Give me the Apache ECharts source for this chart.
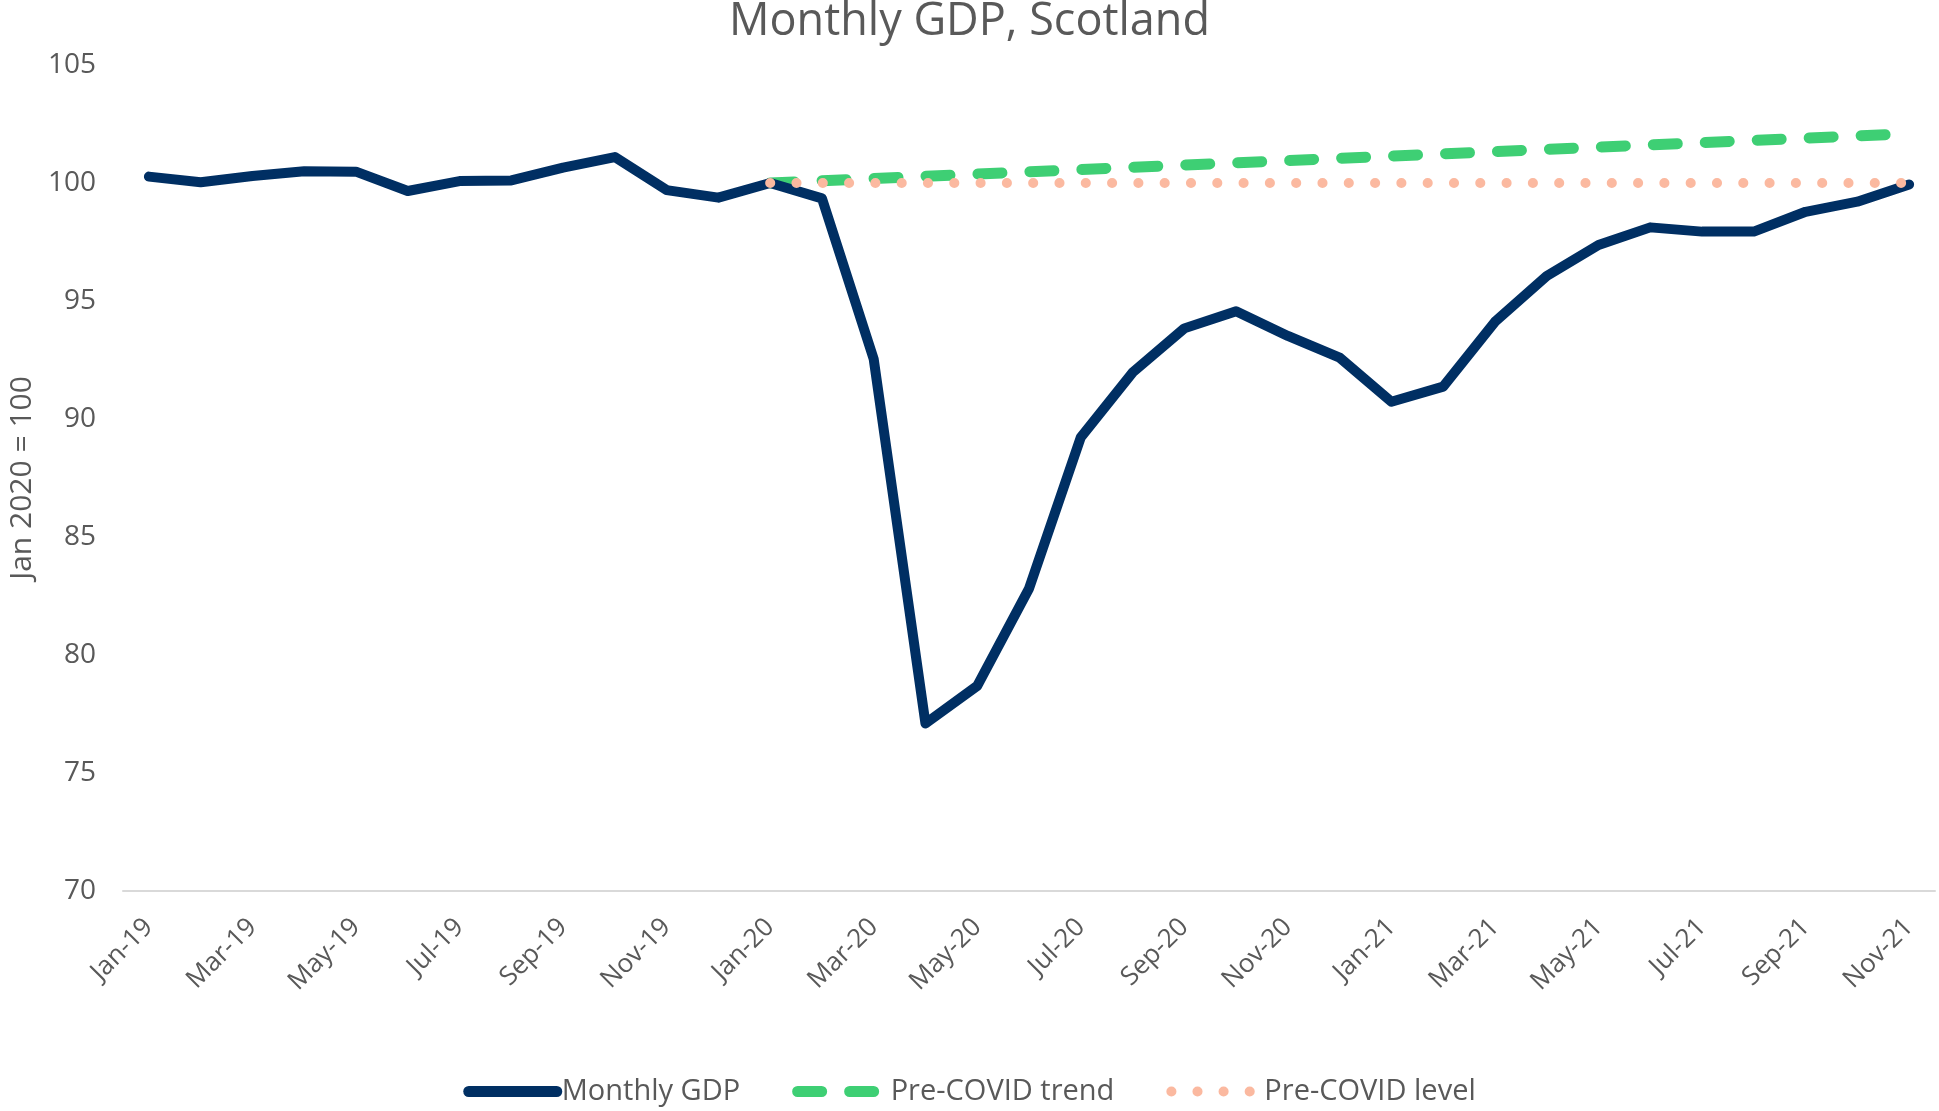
<!DOCTYPE html>
<html><head><meta charset="utf-8">
<script src="https://cdn.jsdelivr.net/npm/echarts@6/dist/echarts.min.js"></script>
<style>html,body{margin:0;padding:0;background:#fff}#c{width:1939px;height:1111px}</style>
</head><body><div id="c"></div>
<script>
const months = ['Jan-19','Feb-19','Mar-19','Apr-19','May-19','Jun-19','Jul-19','Aug-19','Sep-19','Oct-19','Nov-19','Dec-19',
  'Jan-20','Feb-20','Mar-20','Apr-20','May-20','Jun-20','Jul-20','Aug-20','Sep-20','Oct-20','Nov-20','Dec-20',
  'Jan-21','Feb-21','Mar-21','Apr-21','May-21','Jun-21','Jul-21','Aug-21','Sep-21','Oct-21','Nov-21'];
const monthlyGDP = [100.27,100.03,100.3,100.5,100.48,99.66,100.08,100.11,100.65,101.1,99.7,99.38,
  100.0,99.35,92.54,77.1,78.69,82.81,89.22,91.97,93.84,94.57,93.52,92.6,
  90.73,91.37,94.12,96.06,97.37,98.12,97.94,97.94,98.78,99.21,99.94];
const preCovidTrend = [null,null,null,null,null,null,null,null,null,null,null,null,
  100.0,100.1,100.19,100.29,100.38,100.48,100.57,100.67,100.76,100.86,100.95,101.05,
  101.14,101.24,101.33,101.43,101.52,101.62,101.71,101.81,101.9,102.0,102.09];
const preCovidLevel = [null,null,null,null,null,null,null,null,null,null,null,null,
  100,100,100,100,100,100,100,100,100,100,100,100,
  100,100,100,100,100,100,100,100,100,100,100];
const seriesNames = ['Monthly GDP','Pre-COVID trend','Pre-COVID level'];
const yMin = 70, yMax = 105, yStep = 5;

const NAVY = '#002f63', GREEN = '#3ecf74', PINK = '#fbb9a0';
const chart = echarts.init(document.getElementById('c'), null, {renderer:'canvas'});
const FONT = '"Open Sans", sans-serif';
chart.setOption({
  animation:false,
  backgroundColor:'#fff',
  title:{text:'Monthly GDP, Scotland', left:'center', top:-5,
    textStyle:{fontFamily:FONT, fontSize:45, fontWeight:'normal', color:'#595959'}},
  grid:{left:123, right:4, top:65, bottom:220, containLabel:false, outerBoundsMode:'none'},
  legend:{bottom:0, left:'center', itemWidth:88, itemHeight:12, itemGap:52,
    textStyle:{fontFamily:FONT, fontSize:29, color:'#595959'},
    itemStyle:{opacity:0},
    data:[
      {name:seriesNames[0], itemStyle:{opacity:0}, lineStyle:{width:11, cap:'round', type:'solid', color:NAVY}},
      {name:seriesNames[1], itemStyle:{opacity:0}, lineStyle:{width:11, cap:'round', type:[24,28], color:GREEN}},
      {name:seriesNames[2], itemStyle:{opacity:0}, lineStyle:{width:10, cap:'round', type:[0.1,26], color:PINK}}
    ]},
  xAxis:{type:'category', data:months, boundaryGap:true,
    axisLine:{lineStyle:{color:'#d9d9d9', width:2}},
    axisTick:{show:false},
    axisLabel:{interval:1, rotate:45, margin:32, fontFamily:FONT, fontSize:26, color:'#595959'}},
  yAxis:{type:'value', min:yMin, max:yMax, interval:yStep,
    name:'Jan 2020 = 100', nameLocation:'middle', nameGap:86,
    nameTextStyle:{fontFamily:FONT, fontSize:30, color:'#595959'},
    axisLine:{show:false}, axisTick:{show:false}, splitLine:{show:false},
    axisLabel:{margin:27, fontFamily:FONT, fontSize:28, color:'#595959'}},
  series:[
    {name:seriesNames[0], type:'line', data:monthlyGDP, symbol:'none', z:3,
      lineStyle:{color:NAVY, width:10, cap:'round', join:'round'}, itemStyle:{color:NAVY}},
    {name:seriesNames[1], type:'line', data:preCovidTrend, symbol:'none', z:2,
      lineStyle:{color:GREEN, width:11, type:[24,28], cap:'round'}, itemStyle:{color:GREEN}},
    {name:seriesNames[2], type:'line', data:preCovidLevel, symbol:'none', z:4,
      lineStyle:{color:PINK, width:10, type:[0.1,26.2], cap:'round'}, itemStyle:{color:PINK}}
  ]
});
</script></body></html>
